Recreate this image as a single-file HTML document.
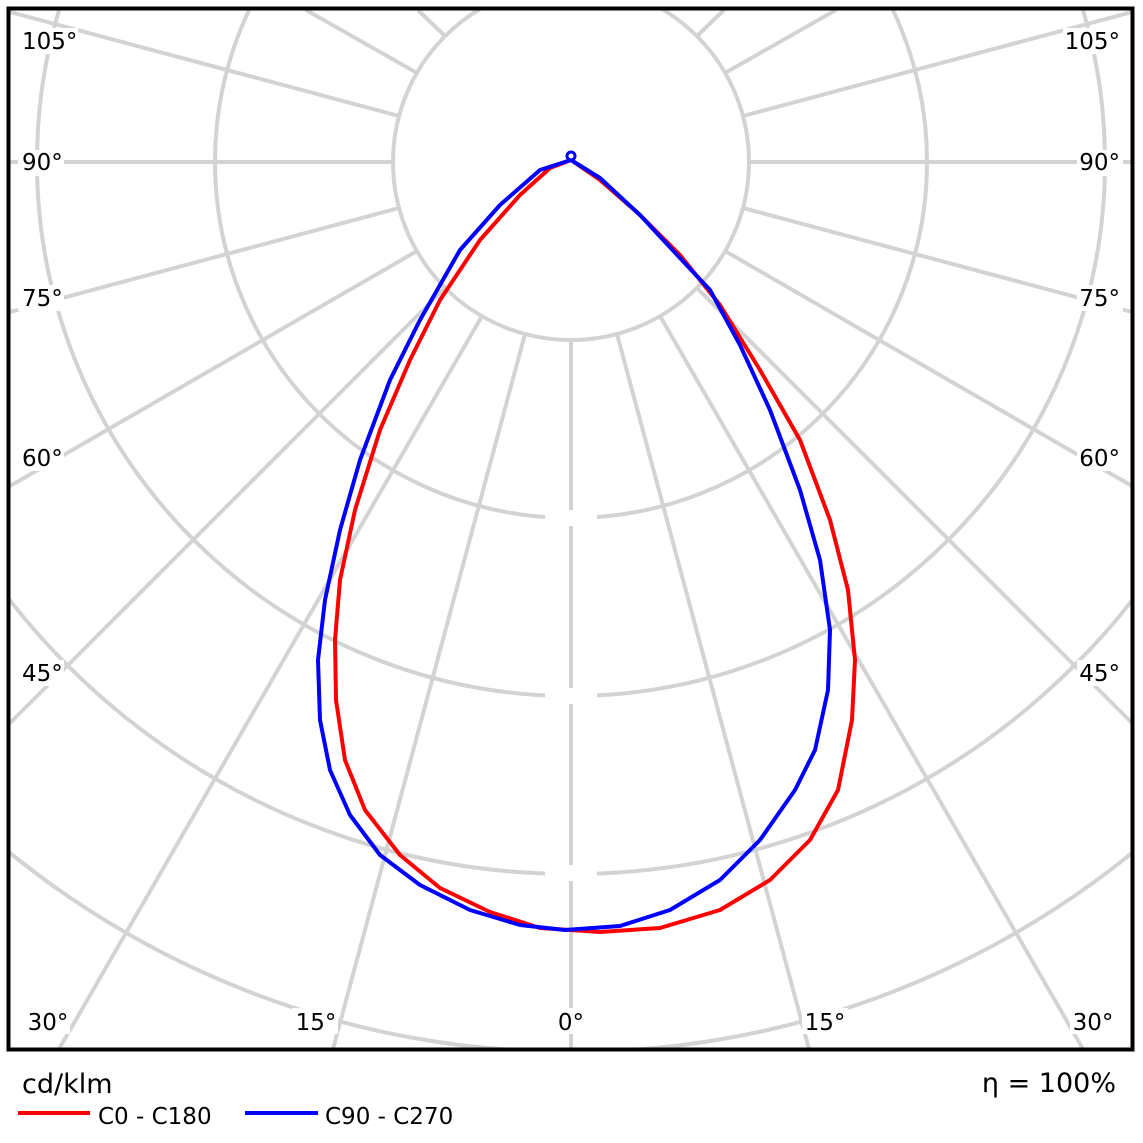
<!DOCTYPE html>
<html><head><style>html,body{margin:0;background:#fff;overflow:hidden;width:1143px;height:1143px}svg{display:block}text{font-family:"DejaVu Sans","Liberation Sans",sans-serif}</style></head><body>
<svg width="1143" height="1143" viewBox="0 0 1143 1143" xmlns="http://www.w3.org/2000/svg" style="overflow:hidden">
<defs><clipPath id="c"><rect x="9" y="9" width="1123" height="1040"/></clipPath></defs>
<g clip-path="url(#c)" stroke="#d3d3d3" stroke-width="4" fill="none">
<circle cx="571" cy="162" r="178"/><circle cx="571" cy="162" r="356"/><circle cx="571" cy="162" r="534"/><circle cx="571" cy="162" r="712"/><circle cx="571" cy="162" r="890"/>
</g>
<g stroke="#d3d3d3" stroke-width="4">
<line x1="571" y1="340" x2="571" y2="1049"/>
<line x1="617" y1="334" x2="809" y2="1049"/><line x1="525" y1="334" x2="333" y2="1049"/>
<line x1="660" y1="316" x2="1083" y2="1049"/><line x1="482" y1="316" x2="59" y2="1049"/>
<line x1="697" y1="288" x2="1132" y2="723"/><line x1="445" y1="288" x2="10" y2="723"/>
<line x1="725" y1="251" x2="1132" y2="486"/><line x1="417" y1="251" x2="10" y2="486"/>
<line x1="743" y1="208" x2="1132" y2="312"/><line x1="399" y1="208" x2="10" y2="312"/>
<line x1="749" y1="162" x2="1132" y2="162"/><line x1="393" y1="162" x2="10" y2="162"/>
<line x1="743" y1="116" x2="1132" y2="12"/><line x1="399" y1="116" x2="10" y2="12"/>
<line x1="725" y1="73" x2="836" y2="10"/><line x1="417" y1="73" x2="306" y2="10"/>
<line x1="697" y1="36" x2="724" y2="10"/><line x1="445" y1="36" x2="418" y2="10"/>
</g>
<g fill="#fff"><rect x="545" y="510" width="52" height="16"/><rect x="545" y="688" width="52" height="16"/><rect x="545" y="865" width="52" height="16"/></g>
<g font-size="23" fill="#000">
<g fill="#fff"><rect x="18" y="28" width="60" height="26"/><rect x="18" y="150" width="46" height="26"/><rect x="18" y="285" width="46" height="26"/><rect x="18" y="445" width="46" height="26"/><rect x="18" y="660" width="46" height="26"/><rect x="1063" y="28" width="60" height="26"/><rect x="1077" y="150" width="46" height="26"/><rect x="1077" y="285" width="46" height="26"/><rect x="1077" y="445" width="46" height="26"/><rect x="1077" y="660" width="46" height="26"/><rect x="24" y="1008" width="46" height="26"/><rect x="292" y="1008" width="46" height="26"/><rect x="553" y="1008" width="36" height="26"/><rect x="802" y="1008" width="46" height="26"/><rect x="1070" y="1008" width="46" height="26"/></g>
<text x="22" y="49">105°</text><text x="22" y="170">90°</text><text x="22" y="306">75°</text><text x="22" y="466">60°</text><text x="22" y="681">45°</text>
<text x="1120" y="49" text-anchor="end">105°</text><text x="1120" y="170" text-anchor="end">90°</text><text x="1120" y="306" text-anchor="end">75°</text><text x="1120" y="466" text-anchor="end">60°</text><text x="1120" y="681" text-anchor="end">45°</text>
<text x="48" y="1030" text-anchor="middle">30°</text><text x="316" y="1030" text-anchor="middle">15°</text><text x="571" y="1030" text-anchor="middle">0°</text><text x="825" y="1030" text-anchor="middle">15°</text><text x="1093" y="1030" text-anchor="middle">30°</text>
</g>
<g fill="none" stroke-width="4" stroke-linejoin="round">
<polyline stroke="#ff0000" points="571,160 600,180 640,215 680,255 720,305 760,370 800,440 830,520 848,590 855,660 852,720 838,790 810,840 770,880 720,910 660,928 600,932 540,928 490,912 440,888 400,855 365,810 345,760 336,700 335,640 340,580 355,510 380,430 410,360 440,300 480,240 520,195 550,168 571,160"/>
<polyline stroke="#0000ff" points="571,160 600,178 640,215 680,258 710,290 740,345 770,410 800,490 820,560 830,630 828,690 815,750 795,790 760,840 720,880 670,910 620,926 565,930 520,925 470,910 420,885 380,855 350,815 330,770 320,720 318,660 325,600 340,530 360,460 390,380 420,320 460,250 500,205 540,170 571,160"/>
<circle cx="571" cy="156" r="4" stroke="#0000ff" stroke-width="3"/>
</g>
<rect x="8.5" y="8.5" width="1124" height="1041" fill="none" stroke="#000" stroke-width="4"/>
<text x="22" y="1093" font-size="27">cd/klm</text>
<line x1="18" y1="1113" x2="90" y2="1113" stroke="#ff0000" stroke-width="4"/>
<text x="98" y="1124" font-size="23">C0 - C180</text>
<line x1="245" y1="1113" x2="318" y2="1113" stroke="#0000ff" stroke-width="4"/>
<text x="325" y="1124" font-size="23">C90 - C270</text>
<text x="1116" y="1092" font-size="27" text-anchor="end">η = 100%</text>
</svg>
</body></html>
